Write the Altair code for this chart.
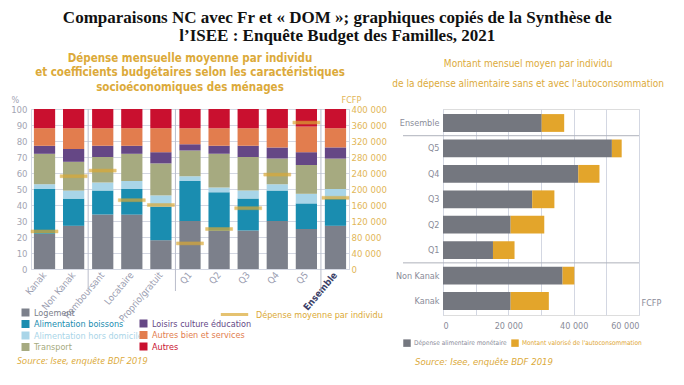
import json
import altair as alt
import pandas as pd

# ---------------- data : left panel ----------------
categories = ["Kanak", "Non Kanak", "Remboursant", "Locataire", "Proprio/gratuit",
              "Q1", "Q2", "Q3", "Q4", "Q5", "Ensemble"]
components = ["Logement", "Alimentation boissons", "Alimentation hors domicile", "Transport",
              "Loisirs culture éducation", "Autres bien et services", "Autres"]
logement = [22, 27, 34, 34, 18, 30, 24, 24, 30, 25, 27]
alimentation_boissons = [28, 17, 15, 16, 21, 25, 24, 20, 19, 16, 17]
alimentation_hors_domicile = [3, 5, 5, 5, 7, 3, 3, 5, 4, 6, 6]
transport = [19, 18, 16, 17, 20, 16, 21, 21, 16, 18, 19]
loisirs = [5, 8, 7, 5, 7, 4, 5, 7, 7, 8, 7]
autres_biens = [11, 13, 11, 11, 15, 10, 11, 11, 12, 16, 12]
autres = [12, 12, 12, 12, 12, 12, 12, 12, 12, 11, 12]
depense_moyenne = [94000, 232000, 246000, 172000, 160000, 64000, 100000, 152000, 236000, 366000, 178000]
depense_label = "Dépense moyenne par individu"
separators_after = ["Non Kanak", "Proprio/gratuit", "Q5"]

# ---------------- data : right panel ----------------
groups_right = ["Ensemble", "Q5", "Q4", "Q3", "Q2", "Q1", "Non Kanak", "Kanak"]
series_right = ["Dépense alimentaire monétaire", "Montant valorisé de l'autoconsommation"]
depense_monetaire = [30200, 51700, 41400, 27300, 20700, 15300, 36600, 20700]
autoconsommation = [6900, 3000, 6500, 6800, 10300, 6600, 3600, 11700]
separators_right = ["Ensemble", "Q1"]

source_text = "Source: Isee, enquête BDF 2019"

# ---------------- styles ----------------
comp_colors = ["#7c808b", "#1a8db0", "#a9d5e8", "#a6aa80", "#654785", "#e27d4e", "#c9102f"]
right_colors = ["#74777f", "#e3a52b"]
yellow = "#dba935"
gold = "#dcaa3a"
grid_c = "#d3d7e2"
narrow = "DejaVu Sans Condensed"
cond = "Noto Sans Condensed, DejaVu Sans Condensed"

series_vals = [logement, alimentation_boissons, alimentation_hors_domicile, transport,
               loisirs, autres_biens, autres]
rows = []
for i, (comp, vals) in enumerate(zip(components, series_vals)):
    for cat, v in zip(categories, vals):
        rows.append({"cat": cat, "comp": comp, "ord": i, "value": v})
df_left = pd.DataFrame(rows)
df_dep = pd.DataFrame({"cat": categories, "dep": depense_moyenne, "lab": depense_label})

rows_r = []
for i, (s, vals) in enumerate(zip(series_right, [depense_monetaire, autoconsommation])):
    for g, v in zip(groups_right, vals):
        rows_r.append({"grp": g, "serie": s, "ord": i, "value": v})
df_right = pd.DataFrame(rows_r)


def color_expr(names, colors, default):
    expr = json.dumps(default)
    for n, c in reversed(list(zip(names, colors))):
        expr = f"datum.label == {json.dumps(n)} ? {json.dumps(c)} : ({expr})"
    return expr


def spaced(field="datum.value"):
    return f"replace(format({field}, ','), ',', ' ')"


# ---------------- left panel ----------------
W_L, H_L = 318, 160
pad_in, pad_out = 0.27, 0.1
step_L = W_L / (len(categories) - pad_in + 2 * pad_out)

x_enc = alt.X(
    "cat:N", sort=categories, title=None,
    scale=alt.Scale(paddingInner=pad_in, paddingOuter=pad_out),
    axis=alt.Axis(labelAngle=-50, ticks=False, domainColor=grid_c, labelFontSize=9.5,
                  labelFont=cond, labelPadding=4,
                  labelColor={"expr": "datum.value == 'Ensemble' ? '#3b3f68' : '#9a9db0'"},
                  labelFontWeight={"expr": "datum.value == 'Ensemble' ? 'bold' : 'normal'"}),
)
y_left_axis = alt.Axis(
    title="%", values=list(range(0, 101, 10)), ticks=False, domainColor=grid_c,
    gridColor=grid_c, labelColor="#a3a5b3", labelFont=cond, labelFontSize=9.5, labelPadding=4,
    titleAngle=0, titleX=-20, titleY=-5, titleAlign="left", titleBaseline="bottom",
    titleColor="#a3a5b3", titleFontWeight="normal", titleFont=cond, titleFontSize=9,
)
y_scale = alt.Scale(domain=[0, 100], nice=False)

base_left = alt.Chart(df_left).transform_stack(
    stack="value", groupby=["cat"], as_=["y0", "y1"],
    sort=[alt.SortField("ord", order="ascending")],
)

legend_common = dict(orient="none", title=None, labelFont=cond, labelFontSize=9,
                     symbolType="square", symbolSize=64, symbolStrokeWidth=0,
                     rowPadding=1.5, labelOffset=4)

bars_a = base_left.transform_filter("datum.ord < 4").mark_bar().encode(
    x=x_enc,
    y=alt.Y("y0:Q", scale=y_scale, axis=y_left_axis),
    y2="y1:Q",
    color=alt.Color("comp:N", scale=alt.Scale(domain=components[:4], range=comp_colors[:4]),
                    legend=alt.Legend(legendX=-10, legendY=199,
                                      labelColor={"expr": color_expr(components[:4], comp_colors[:4], "#888")},
                                      **legend_common)),
)
bars_b = base_left.transform_filter("datum.ord >= 4").mark_bar().encode(
    x=x_enc,
    y=alt.Y("y0:Q", scale=y_scale, axis=y_left_axis),
    y2="y1:Q",
    fill=alt.Fill("comp:N", scale=alt.Scale(domain=components[4:], range=comp_colors[4:]),
                  legend=alt.Legend(legendX=108, legendY=210,
                                    labelColor={"expr": color_expr(components[4:], comp_colors[4:], "#888")},
                                    **legend_common)),
)
seps_left = alt.Chart(pd.DataFrame({"cat": separators_after})).mark_rule(
    color="#b9bdca", strokeWidth=1, xOffset=step_L / 2
).encode(x=alt.X("cat:N", sort=categories), y=alt.value(0), y2=alt.value(H_L + 22))

src_left = alt.Chart(pd.DataFrame({"t": [source_text]})).mark_text(
    align="left", baseline="middle", font="Open Sans", fontStyle="italic", fontSize=9.5, color=gold
).encode(text="t:N", x=alt.value(-14), y=alt.value(252))

inner = alt.layer(bars_a, bars_b, seps_left, src_left)

ticks = alt.Chart(df_dep).mark_tick(thickness=3, size=27, color=yellow, strokeWidth=0.5).encode(
    x=alt.X("cat:N", sort=categories),
    y=alt.Y("dep:Q", scale=alt.Scale(domain=[0, 400000], nice=False),
            axis=alt.Axis(orient="right", title="FCFP", values=list(range(0, 400001, 40000)),
                          labelExpr=spaced(), ticks=False, domainColor=grid_c, grid=False,
                          labelColor="#e2b657", labelFont=cond, labelFontSize=9.5, labelPadding=2,
                          titleAngle=0, titleX=-8, titleY=-5, titleAlign="left",
                          titleBaseline="bottom", titleColor="#e2b657", titleFontWeight="normal",
                          titleFont=cond, titleFontSize=9)),
    stroke=alt.Stroke("lab:N", scale=alt.Scale(domain=[depense_label], range=[yellow]),
                      legend=alt.Legend(orient="none", legendX=188, legendY=190, title=None,
                                        symbolType="stroke", symbolSize=750, symbolStrokeWidth=3,
                                        labelFont=cond, labelFontSize=9, labelColor=yellow,
                                        labelOffset=6)),
)

left = alt.layer(inner, ticks).resolve_scale(y="independent").properties(
    width=W_L, height=H_L,
    title=alt.TitleParams(
        text=["Dépense mensuelle moyenne par individu",
              "et coefficients budgétaires selon les caractéristiques",
              "socioéconomiques des ménages"],
        font=narrow, fontSize=11.5, fontWeight="bold", color=gold, lineHeight=14.5,
        anchor="middle", offset=2),
)

# ---------------- right panel ----------------
W_R, H_R = 196, 206
pr_in, pr_out = 0.3, 0.2
step_R = H_R / (len(groups_right) - pr_in + 2 * pr_out)

bars_r = alt.Chart(df_right).mark_bar().encode(
    y=alt.Y("grp:N", sort=groups_right, title=None,
            scale=alt.Scale(paddingInner=pr_in, paddingOuter=pr_out),
            axis=alt.Axis(ticks=False, domainColor=grid_c, labelColor="#8a8c99", labelFont=cond,
                          labelFontSize=9, labelPadding=4)),
    x=alt.X("value:Q", stack="zero", scale=alt.Scale(domain=[0, 60000], nice=False),
            axis=alt.Axis(values=list(range(0, 60001, 10000)), labelExpr=spaced(), ticks=False,
                          domain=False, gridColor=grid_c, labelColor="#8a8c99", labelFont=cond,
                          labelFontSize=9, labelPadding=6, title="FCFP", titleAngle=0,
                          titleX=W_R + 2, titleY=-8, titleAlign="left", titleBaseline="bottom",
                          titleColor="#8a8c99", titleFontWeight="normal", titleFont=cond,
                          titleFontSize=9)),
    color=alt.Color("serie:N", scale=alt.Scale(domain=series_right, range=right_colors),
                    legend=alt.Legend(orient="none", direction="horizontal", legendX=-40, legendY=230,
                                      title=None, labelFont=cond, labelFontSize=6.5,
                                      symbolType="square", symbolSize=56, columnPadding=4,
                                      labelOffset=3, symbolStrokeWidth=0,
                                      labelColor={"expr": color_expr(series_right, ["#8a8c99", "#e0a632"], "#888")})),
    order=alt.Order("ord:Q", sort="ascending"),
)
seps_right = alt.Chart(pd.DataFrame({"grp": separators_right})).mark_rule(
    color="#aeb1bb", strokeWidth=1, yOffset=step_R / 2
).encode(y=alt.Y("grp:N", sort=groups_right), x=alt.value(-40), x2=alt.value(W_R))

src_right = alt.Chart(pd.DataFrame({"t": [source_text]})).mark_text(
    align="left", baseline="middle", font=cond, fontStyle="italic", fontSize=9.5, color=gold
).encode(text="t:N", x=alt.value(-28), y=alt.value(253))

right = alt.layer(bars_r, seps_right, src_right).properties(
    width=W_R, height=H_R,
    title=alt.TitleParams(
        text="Montant mensuel moyen par individu",
        subtitle="de la dépense alimentaire sans et avec l'autoconsommation",
        font=cond, fontSize=10, fontWeight="normal", color=gold,
        subtitleFont=cond, subtitleFontSize=10, subtitleColor=gold, subtitlePadding=10,
        anchor="middle", frame="bounds", offset=20),
)

chart = alt.hconcat(left, right, spacing=4).resolve_scale(
    color="independent", fill="independent", stroke="independent"
).properties(
    padding={"left": 2, "top": 1, "right": 0, "bottom": 0},
    title=alt.TitleParams(
        text=["Comparaisons NC avec Fr et « DOM »; graphiques copiés de la Synthèse de",
              "l’ISEE : Enquête Budget des Familles, 2021"],
        font="Liberation Serif", fontSize=17, fontWeight="bold", color="#111111",
        lineHeight=18, anchor="middle", offset=7),
).configure_view(stroke=grid_c).configure(background="white")

chart.save("out.html", embed_options={"renderer": "svg", "actions": False})
